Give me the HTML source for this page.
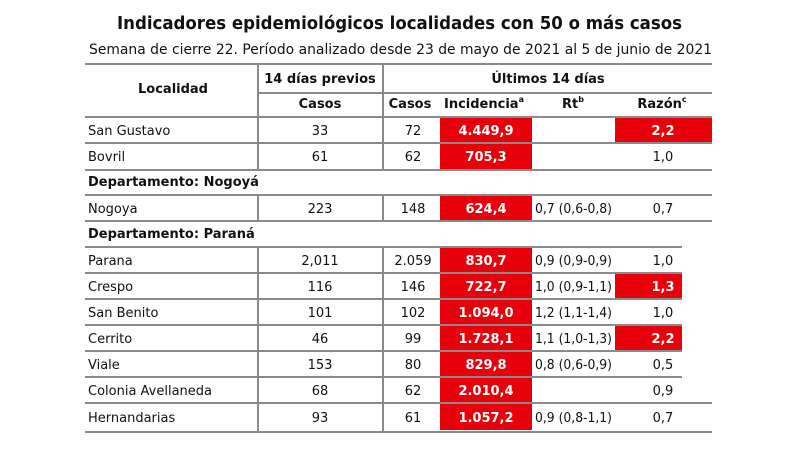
<!DOCTYPE html>
<html><head><meta charset="utf-8"><style>
html,body{margin:0;padding:0;background:#fff;width:800px;height:450px;overflow:hidden}
svg{display:block}
text{font-family:"DejaVu Sans","Liberation Sans",sans-serif;fill:#111}
.b{font-weight:bold}
.w{fill:#fff;font-weight:bold}
</style></head><body>
<svg width="800" height="450" viewBox="0 0 800 450" xmlns="http://www.w3.org/2000/svg">
<text x="117" y="29" font-size="18" class="b" textLength="565" lengthAdjust="spacingAndGlyphs">Indicadores epidemiológicos localidades con 50 o más casos</text>
<text x="89" y="54" font-size="14" textLength="623" lengthAdjust="spacingAndGlyphs">Semana de cierre 22. Período analizado desde 23 de mayo de 2021 al 5 de junio de 2021</text>

<g fill="#e8000b">
<rect x="440" y="118" width="92" height="25"/>
<rect x="615" y="118" width="97" height="25"/>
<rect x="440" y="144" width="92" height="25"/>
<rect x="440" y="196" width="92" height="24"/>
<rect x="440" y="248" width="92" height="25"/>
<rect x="440" y="274" width="92" height="25"/>
<rect x="615" y="274" width="67" height="25"/>
<rect x="440" y="300" width="92" height="25"/>
<rect x="440" y="326" width="92" height="25"/>
<rect x="615" y="326" width="67" height="25"/>
<rect x="440" y="352" width="92" height="25"/>
<rect x="440" y="378" width="92" height="25"/>
<rect x="440" y="404" width="92" height="26"/>
</g>

<g stroke="#8a8a8a" stroke-width="2">
<line x1="85" y1="64" x2="712" y2="64"/>
<line x1="258" y1="93" x2="712" y2="93"/>
<line x1="85" y1="117" x2="712" y2="117"/>
<line x1="85" y1="143" x2="712" y2="143"/>
<line x1="85" y1="170" x2="712" y2="170"/>
<line x1="85" y1="195" x2="712" y2="195"/>
<line x1="85" y1="221" x2="712" y2="221"/>
<line x1="85" y1="247" x2="682" y2="247"/>
<line x1="85" y1="273" x2="682" y2="273"/>
<line x1="85" y1="299" x2="682" y2="299"/>
<line x1="85" y1="325" x2="682" y2="325"/>
<line x1="85" y1="351" x2="682" y2="351"/>
<line x1="85" y1="377" x2="682" y2="377"/>
<line x1="85" y1="403" x2="712" y2="403"/>
<line x1="85" y1="432" x2="712" y2="432"/>
<line x1="258" y1="64" x2="258" y2="170"/>
<line x1="383" y1="64" x2="383" y2="170"/>
<line x1="258" y1="195" x2="258" y2="221"/>
<line x1="383" y1="195" x2="383" y2="221"/>
<line x1="258" y1="247" x2="258" y2="432"/>
<line x1="383" y1="247" x2="383" y2="432"/>
</g>

<g font-size="13" class="b" text-anchor="middle">
<text x="173" y="93" class="b">Localidad</text>
<text x="320" y="83" class="b">14 días previos</text>
<text x="548" y="83" class="b">Últimos 14 días</text>
<text x="320" y="108" class="b">Casos</text>
<text x="410" y="108" class="b">Casos</text>
<text x="484" y="108" class="b">Incidencia<tspan font-size="8" dy="-6">a</tspan></text>
<text x="573" y="108" class="b">Rt<tspan font-size="8" dy="-6">b</tspan></text>
<text x="662" y="108" class="b">Razón<tspan font-size="8" dy="-6">c</tspan></text>
</g>

<g font-size="13">
<text x="88" y="186" class="b">Departamento: Nogoyá</text>
<text x="88" y="238" class="b">Departamento: Paraná</text>
</g>

<g font-size="13">
<text x="88" y="135">San Gustavo</text><text x="320" y="135" text-anchor="middle">33</text><text x="413" y="135" text-anchor="middle">72</text><text x="486" y="135" text-anchor="middle" class="w">4.449,9</text><text x="663" y="135" text-anchor="middle" class="w">2,2</text>
<text x="88" y="161">Bovril</text><text x="320" y="161" text-anchor="middle">61</text><text x="413" y="161" text-anchor="middle">62</text><text x="486" y="161" text-anchor="middle" class="w">705,3</text><text x="663" y="161" text-anchor="middle">1,0</text>
<text x="88" y="213">Nogoya</text><text x="320" y="213" text-anchor="middle">223</text><text x="413" y="213" text-anchor="middle">148</text><text x="486" y="213" text-anchor="middle" class="w">624,4</text><text x="535" y="213" textLength="77" lengthAdjust="spacingAndGlyphs">0,7 (0,6-0,8)</text><text x="663" y="213" text-anchor="middle">0,7</text>
<text x="88" y="265">Parana</text><text x="320" y="265" text-anchor="middle">2,011</text><text x="413" y="265" text-anchor="middle">2.059</text><text x="486" y="265" text-anchor="middle" class="w">830,7</text><text x="535" y="265" textLength="77" lengthAdjust="spacingAndGlyphs">0,9 (0,9-0,9)</text><text x="663" y="265" text-anchor="middle">1,0</text>
<text x="88" y="291">Crespo</text><text x="320" y="291" text-anchor="middle">116</text><text x="413" y="291" text-anchor="middle">146</text><text x="486" y="291" text-anchor="middle" class="w">722,7</text><text x="535" y="291" textLength="77" lengthAdjust="spacingAndGlyphs">1,0 (0,9-1,1)</text><text x="663" y="291" text-anchor="middle" class="w">1,3</text>
<text x="88" y="317">San Benito</text><text x="320" y="317" text-anchor="middle">101</text><text x="413" y="317" text-anchor="middle">102</text><text x="486" y="317" text-anchor="middle" class="w">1.094,0</text><text x="535" y="317" textLength="77" lengthAdjust="spacingAndGlyphs">1,2 (1,1-1,4)</text><text x="663" y="317" text-anchor="middle">1,0</text>
<text x="88" y="343">Cerrito</text><text x="320" y="343" text-anchor="middle">46</text><text x="413" y="343" text-anchor="middle">99</text><text x="486" y="343" text-anchor="middle" class="w">1.728,1</text><text x="535" y="343" textLength="77" lengthAdjust="spacingAndGlyphs">1,1 (1,0-1,3)</text><text x="663" y="343" text-anchor="middle" class="w">2,2</text>
<text x="88" y="369">Viale</text><text x="320" y="369" text-anchor="middle">153</text><text x="413" y="369" text-anchor="middle">80</text><text x="486" y="369" text-anchor="middle" class="w">829,8</text><text x="535" y="369" textLength="77" lengthAdjust="spacingAndGlyphs">0,8 (0,6-0,9)</text><text x="663" y="369" text-anchor="middle">0,5</text>
<text x="88" y="395">Colonia Avellaneda</text><text x="320" y="395" text-anchor="middle">68</text><text x="413" y="395" text-anchor="middle">62</text><text x="486" y="395" text-anchor="middle" class="w">2.010,4</text><text x="663" y="395" text-anchor="middle">0,9</text>
<text x="88" y="422">Hernandarias</text><text x="320" y="422" text-anchor="middle">93</text><text x="413" y="422" text-anchor="middle">61</text><text x="486" y="422" text-anchor="middle" class="w">1.057,2</text><text x="535" y="422" textLength="77" lengthAdjust="spacingAndGlyphs">0,9 (0,8-1,1)</text><text x="663" y="422" text-anchor="middle">0,7</text>
</g>
</svg>
</body></html>
